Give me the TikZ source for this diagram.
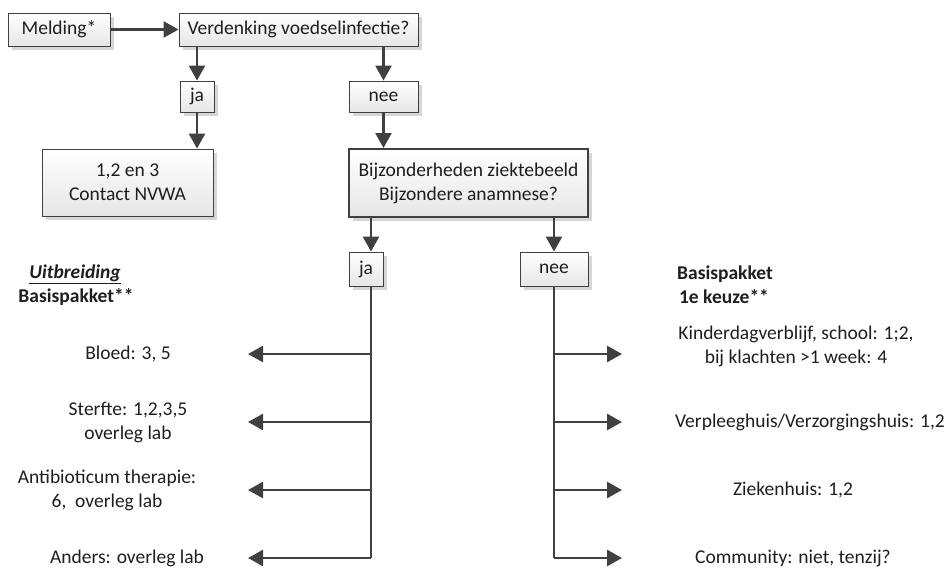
\documentclass[tikz,border=0pt]{standalone}
\usepackage{fontspec}
\setmainfont{Carlito}
\usetikzlibrary{arrows.meta,shadows}
\definecolor{ln}{HTML}{404040}
\definecolor{boxbot}{HTML}{E6E6E6}
\definecolor{txt}{HTML}{1E1E1E}
\begin{document}
\begin{tikzpicture}[x=1pt,y=-1pt,
  font=\fontsize{19.5}{24}\selectfont,
  box/.style={rectangle, draw=ln, line width=0.9pt, top color=white, bottom color=boxbot,
    drop shadow={shadow xshift=4pt,shadow yshift=-4pt,fill=black!16,opacity=1},
    inner sep=0pt, align=center, text=txt},
  arr/.style={draw=ln, line width=2.6pt, -{Triangle[length=15pt,width=16pt]}},
  trunk/.style={draw=ln, line width=2.6pt},
  lbl/.style={align=center, text=txt, inner sep=0pt}]
\useasboundingbox (0,0) rectangle (947,568);
% boxes
\node[box, minimum width=102pt, minimum height=33pt] (mel) at (59,29.5) {Melding*};
\node[box, minimum width=239pt, minimum height=33pt] (ver) at (298.5,29.5) {Verdenking voedselinfectie?};
\node[box, minimum width=34pt, minimum height=31pt] (ja1) at (197,96.5) {ja};
\node[box, minimum width=69pt, minimum height=31pt] (nee1) at (383.5,96.5) {nee};
\node[box, minimum width=171pt, minimum height=67pt] (con) at (127.5,182.5) {1,2 en 3\\Contact NVWA};
\node[box, line width=2pt, minimum width=239pt, minimum height=68pt] (bij) at (468.5,183) {Bijzonderheden ziektebeeld\\Bijzondere anamnese?};
\node[box, minimum width=34pt, minimum height=34pt] (ja2) at (366,269) {ja};
\node[box, minimum width=68pt, minimum height=34pt] (nee2) at (554,269) {nee};
% helper coordinates
\coordinate (jx) at (371,0);
\coordinate (nx) at (554,0);
\coordinate (la1) at (248,354);
\coordinate (la2) at (248,422);
\coordinate (la3) at (248,490);
\coordinate (la4) at (248,558);
\coordinate (ra1) at (622,354);
\coordinate (ra2) at (622,422);
\coordinate (ra3) at (622,490);
\coordinate (ra4) at (622,558);
% connectors top
\draw[arr] (mel.east) -- (ver.west);
\draw[arr] (ver.south -| ja1.north) -- (ja1.north);
\draw[arr] (ver.south -| nee1.north) -- (nee1.north);
\draw[arr] (ja1.south) -- (ja1.south |- con.north);
\draw[arr] (nee1.south) -- (nee1.south |- bij.north);
\draw[arr] (bij.south -| jx) -- (ja2.north -| jx);
\draw[arr] (bij.south -| nx) -- (nee2.north);
% trunks
\draw[trunk] (ja2.south -| jx) -- (jx |- la4);
\draw[trunk] (nee2.south) -- (nx |- ra4);
\foreach \i in {1,2,3,4}{
  \draw[arr] (jx |- la\i) -- (la\i);
  \draw[arr] (nx |- ra\i) -- (ra\i);
}
% left labels
\node[lbl] (h1) at (75,274) {\textbf{\textit{\underline{Uitbreiding}}}};
\node[lbl] (h2) at (76,297) {\textbf{Basispakket**}};
\node[lbl] (t1) at (128,354) {Bloed: 3, 5};
\node[lbl] (t2) at (128,422) {Sterfte: 1,2,3,5\\overleg lab};
\node[lbl] (t3) at (107,490) {Antibioticum therapie:\\6,\ \ overleg lab};
\node[lbl] (t4) at (127,558) {Anders: overleg lab};
% right labels
\node[lbl] (h3) at (725,274) {\textbf{Basispakket}};
\node[lbl] (h4) at (724,297) {\textbf{1e keuze**}};
\node[lbl] (r1) at (796,346) {Kinderdagverblijf, school: 1;2,\\bij klachten >1 week: 4};
\node[lbl] (r2) at (810,422) {Verpleeghuis/Verzorgingshuis: 1,2};
\node[lbl] (r3) at (793,490) {Ziekenhuis: 1,2};
\node[lbl] (r4) at (793,558) {Community: niet, tenzij?};
\end{tikzpicture}
\end{document}
